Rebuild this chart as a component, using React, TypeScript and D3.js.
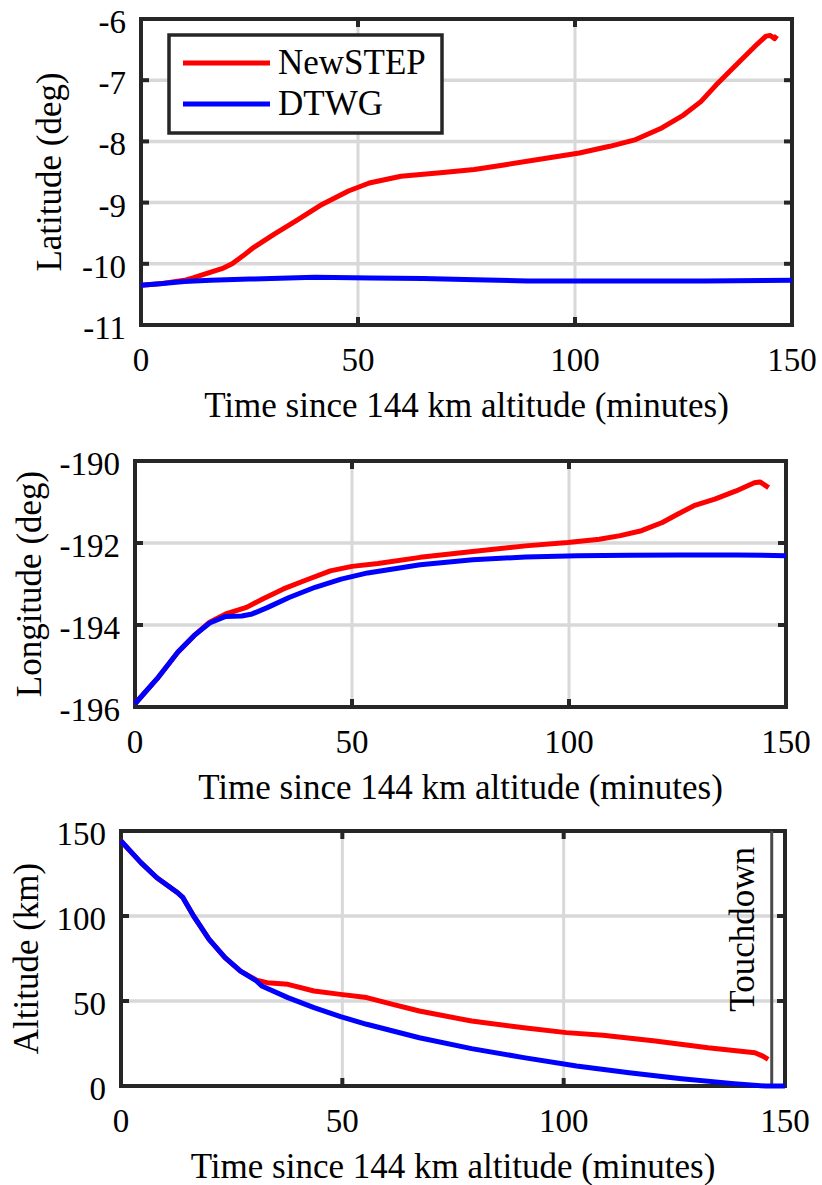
import React from "react";
import * as d3 from "d3";

// ---------- data ----------
const xTicks = [0, 50, 100, 150];

const latTicks = [-11, -10, -9, -8, -7, -6];
const lonTicks = [-196, -194, -192, -190];
const altTicks = [0, 50, 100, 150];

const latNewStepT = [0, 5, 10, 12, 15, 19, 21, 23.5, 26, 30.8, 35.7, 41.7, 47.8, 52.6, 59.9, 69.6, 76.8, 84, 93.7, 101, 108, 114, 120, 125, 129, 132.5, 137, 142, 144, 145, 146, 146.5];
const latNewStepV = [-10.35, -10.32, -10.27, -10.23, -10.16, -10.07, -10.0, -9.87, -9.73, -9.51, -9.3, -9.03, -8.81, -8.68, -8.57, -8.51, -8.46, -8.38, -8.27, -8.19, -8.08, -7.97, -7.78, -7.57, -7.35, -7.08, -6.76, -6.41, -6.28, -6.27, -6.32, -6.27];
const latDtwgT = [0, 5, 10, 16, 25, 40, 53, 65, 77, 89, 100, 113, 130, 150];
const latDtwgV = [-10.35, -10.32, -10.29, -10.27, -10.25, -10.22, -10.23, -10.24, -10.26, -10.28, -10.28, -10.28, -10.28, -10.27];

const lonNewStepT = [0, 5.1, 9.9, 13.6, 17.2, 20.9, 25.7, 29.3, 34.2, 39, 45, 50, 56, 65.7, 77.8, 90, 99.7, 107, 111.8, 116.7, 121.5, 125, 128.8, 133.6, 138.5, 142.7, 144, 146];
const lonNewStepV = [-195.92, -195.31, -194.66, -194.26, -193.93, -193.73, -193.57, -193.37, -193.12, -192.92, -192.68, -192.57, -192.5, -192.35, -192.21, -192.07, -191.99, -191.91, -191.82, -191.7, -191.5, -191.3, -191.09, -190.93, -190.73, -190.53, -190.51, -190.65];
const lonDtwgT = [0, 5.1, 9.9, 13.6, 17.2, 20.9, 24.6, 27, 30.6, 35.5, 41.5, 47.5, 53.6, 65.7, 77.8, 90, 102, 114, 126, 138.5, 150];
const lonDtwgV = [-195.92, -195.31, -194.66, -194.26, -193.95, -193.79, -193.78, -193.73, -193.57, -193.33, -193.08, -192.88, -192.73, -192.53, -192.41, -192.34, -192.31, -192.3, -192.29, -192.29, -192.31];

const altNewStepT = [0, 4.5, 8.1, 12.8, 14, 16.4, 19.9, 23.5, 27, 30.6, 33, 37.7, 43.6, 49.6, 55.5, 61.4, 67.4, 79.2, 91, 100.6, 108.9, 120.7, 132.6, 143.2, 145, 146.2];
const altNewStepV = [144.1, 131.4, 122.5, 113.7, 110.8, 100, 86.3, 75.5, 67.6, 62.3, 60.8, 59.8, 55.9, 53.9, 52, 48, 44.1, 38.2, 34.3, 31.4, 29.8, 26.5, 22.5, 19.6, 17.6, 15.7];
const altDtwgT = [0, 4.5, 8.1, 12.8, 14, 16.4, 19.9, 23.5, 27, 30.6, 31.8, 37.7, 43.6, 49.6, 55.5, 67.4, 79.2, 91, 102.9, 114.8, 126.6, 138.5, 145.6, 150];
const altDtwgV = [144.1, 131.4, 122.5, 113.7, 110.8, 100, 86.3, 75.5, 67.6, 61.8, 58.8, 52, 46.1, 40.8, 36.3, 28.4, 22, 16.7, 11.8, 7.8, 4.3, 1.4, 0, 0];

const touchdownTime = 147;

const seriesNames = ["NewSTEP", "DTWG"];
const seriesColors = ["#ff0000", "#0000ff"];
const xLabel = "Time since 144 km altitude (minutes)";

// ---------- layout ----------
const FONT = "'Liberation Serif', 'Times New Roman', Times, serif";
const FRAME = "#262626";
const GRID = "#d8d8d8";

type Panel = {
  left: number; right: number; top: number; bottom: number;
  yDomain: [number, number]; yTicks: number[]; yLabel: string; yLabelX: number;
  series: { t: number[]; v: number[] }[];
  legend?: boolean; touchdown?: number;
};

const panels: Panel[] = [
  {
    left: 141, right: 792, top: 19, bottom: 325,
    yDomain: [-11, -6], yTicks: latTicks, yLabel: "Latitude (deg)", yLabelX: 61,
    series: [{ t: latNewStepT, v: latNewStepV }, { t: latDtwgT, v: latDtwgV }],
    legend: true,
  },
  {
    left: 135, right: 786, top: 461, bottom: 707,
    yDomain: [-196, -190], yTicks: lonTicks, yLabel: "Longitude (deg)", yLabelX: 41,
    series: [{ t: lonNewStepT, v: lonNewStepV }, { t: lonDtwgT, v: lonDtwgV }],
  },
  {
    left: 121, right: 785, top: 831, bottom: 1086,
    yDomain: [0, 150], yTicks: altTicks, yLabel: "Altitude (km)", yLabelX: 38,
    series: [{ t: altNewStepT, v: altNewStepV }, { t: altDtwgT, v: altDtwgV }],
    touchdown: touchdownTime,
  },
];

function PanelView({ p }: { p: Panel }) {
  const x = d3.scaleLinear().domain([0, 150]).range([p.left, p.right]);
  const y = d3.scaleLinear().domain(p.yDomain).range([p.bottom, p.top]);
  const line = d3.line<[number, number]>().x((d) => x(d[0])).y((d) => y(d[1]));
  const tickLen = 8;
  return (
    <g>
      {/* grid */}
      {xTicks.slice(1, -1).map((t) => (
        <line key={"gx" + t} x1={x(t)} x2={x(t)} y1={p.top} y2={p.bottom} stroke={GRID} strokeWidth={3} />
      ))}
      {p.yTicks.slice(1, -1).map((t) => (
        <line key={"gy" + t} x1={p.left} x2={p.right} y1={y(t)} y2={y(t)} stroke={GRID} strokeWidth={3.5} />
      ))}
      {/* ticks */}
      {xTicks.slice(1, -1).map((t) => (
        <g key={"tx" + t}>
          <line x1={x(t)} x2={x(t)} y1={p.bottom} y2={p.bottom - tickLen} stroke={FRAME} strokeWidth={4} />
          <line x1={x(t)} x2={x(t)} y1={p.top} y2={p.top + tickLen} stroke={FRAME} strokeWidth={4} />
        </g>
      ))}
      {p.yTicks.slice(1, -1).map((t) => (
        <g key={"ty" + t}>
          <line x1={p.left} x2={p.left + tickLen} y1={y(t)} y2={y(t)} stroke={FRAME} strokeWidth={4} />
          <line x1={p.right} x2={p.right - tickLen} y1={y(t)} y2={y(t)} stroke={FRAME} strokeWidth={4} />
        </g>
      ))}
      {/* frame */}
      <rect x={p.left} y={p.top} width={p.right - p.left} height={p.bottom - p.top} fill="none" stroke={FRAME} strokeWidth={4} />
      {/* touchdown */}
      {p.touchdown !== undefined && (
        <g>
          <line x1={x(p.touchdown)} x2={x(p.touchdown)} y1={p.top} y2={p.bottom} stroke="#4a4a4a" strokeWidth={3} />
          <text transform={`translate(${x(p.touchdown) - 18},${p.top + 16}) rotate(-90)`} textAnchor="end"
            fontFamily={FONT} fontSize={35} fill="#000">Touchdown</text>
        </g>
      )}
      {/* data */}
      {p.series.map((s, i) => (
        <path key={i} d={line(s.t.map((t, k) => [t, s.v[k]] as [number, number])) || ""}
          fill="none" stroke={seriesColors[i]} strokeWidth={5} strokeLinejoin="round" strokeLinecap="butt" />
      ))}
      {/* tick labels */}
      {xTicks.map((t) => (
        <text key={"lx" + t} x={x(t)} y={p.bottom + 46} textAnchor="middle" fontFamily={FONT} fontSize={33} fill="#000">{t}</text>
      ))}
      {p.yTicks.map((t) => (
        <text key={"ly" + t} x={p.left - 15} y={y(t) + 14} textAnchor="end" fontFamily={FONT} fontSize={33} fill="#000">{t}</text>
      ))}
      {/* axis labels */}
      <text x={(p.left + p.right) / 2} y={p.bottom + 92} textAnchor="middle" fontFamily={FONT} fontSize={35} fill="#000">{xLabel}</text>
      <text transform={`translate(${p.yLabelX},${(p.top + p.bottom) / 2}) rotate(-90)`} textAnchor="middle"
        fontFamily={FONT} fontSize={35} fill="#000">{p.yLabel}</text>
      {/* legend */}
      {p.legend && (
        <g>
          <rect x={169} y={35} width={273} height={98} fill="#fff" stroke={FRAME} strokeWidth={3.5} />
          {seriesNames.map((n, i) => (
            <g key={n}>
              <line x1={183} x2={270} y1={63 + i * 41} y2={63 + i * 41} stroke={seriesColors[i]} strokeWidth={5} />
              <text x={278} y={63 + i * 41 + 11} fontFamily={FONT} fontSize={35} fill="#000">{n}</text>
            </g>
          ))}
        </g>
      )}
    </g>
  );
}

export default function App() {
  return (
    <svg width={822} height={1185} style={{ position: "absolute", left: 0, top: 0, background: "#fff" }}>
      <rect x={0} y={0} width={822} height={1185} fill="#fff" />
      {panels.map((p, i) => <PanelView key={i} p={p} />)}
    </svg>
  );
}
